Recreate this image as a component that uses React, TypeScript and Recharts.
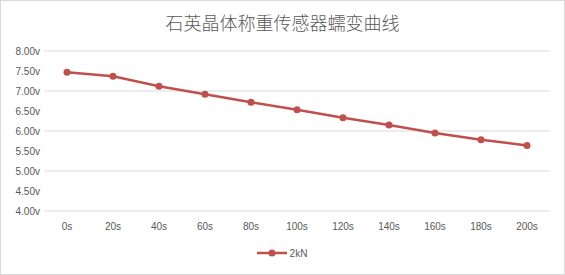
import { LineChart, Line, XAxis, YAxis, CartesianGrid, Legend } from 'recharts';

const times = ['0s', '20s', '40s', '60s', '80s', '100s', '120s', '140s', '160s', '180s', '200s'];
const voltage2kN = [7.47, 7.37, 7.12, 6.92, 6.72, 6.53, 6.33, 6.15, 5.95, 5.78, 5.64];
const yTicks = [4, 4.5, 5, 5.5, 6, 6.5, 7, 7.5, 8];

const data = times.map((t, i) => ({ time: t, v: voltage2kN[i] }));

const LINE_COLOR = '#c0504d';
const TEXT_COLOR = '#595959';

const LegendContent = () => (
  <div style={{ height: 24, paddingLeft: 14, display: 'flex', justifyContent: 'center', alignItems: 'center', fontFamily: 'Liberation Sans, Arial, sans-serif', fontSize: 10, color: TEXT_COLOR }}>
    <svg width={30} height={10} style={{ marginRight: 3 }}>
      <line x1={0} y1={5} x2={30} y2={5} stroke={LINE_COLOR} strokeWidth={2.5} />
      <circle cx={15} cy={5} r={3.5} fill={LINE_COLOR} />
    </svg>
    <span>2kN</span>
  </div>
);

export default function App() {
  return (
    <div style={{ position: 'absolute', left: 0, top: 0, width: 565, height: 275, background: '#fff' }}>
      <div
        style={{
          position: 'absolute',
          top: 9,
          width: '100%',
          textAlign: 'center',
          fontFamily: '"Noto Sans CJK SC", sans-serif',
          fontWeight: 300,
          fontSize: 18,
          color: TEXT_COLOR,
        }}
      >
        石英晶体称重传感器蠕变曲线
      </div>
      <LineChart width={565} height={275} data={data} margin={{ top: 51, right: 15, left: 0, bottom: 10 }}>
        <CartesianGrid vertical={false} stroke="#d9d9d9" />
        <XAxis
          dataKey="time"
          axisLine={false}
          tickLine={false}
          tickSize={0}
          tickMargin={12}
          height={30}
          padding={{ left: 23, right: 23 }}
          tick={{ fill: TEXT_COLOR, fontSize: 10, fontFamily: 'Liberation Sans, Arial, sans-serif' }}
        />
        <YAxis
          domain={[4, 8]}
          ticks={yTicks}
          tickFormatter={(v: number) => v.toFixed(2) + 'v'}
          axisLine={false}
          tickLine={false}
          tickSize={0}
          tickMargin={4}
          width={44}
          tick={{ fill: TEXT_COLOR, fontSize: 10, fontFamily: 'Liberation Sans, Arial, sans-serif' }}
        />
        <Legend verticalAlign="bottom" height={24} content={<LegendContent />} />
        <Line
          dataKey="v"
          name="2kN"
          stroke={LINE_COLOR}
          strokeWidth={2.5}
          dot={{ r: 3.5, fill: LINE_COLOR, stroke: LINE_COLOR, strokeWidth: 0 }}
          isAnimationActive={false}
        />
      </LineChart>
      <div style={{ position: 'absolute', left: 0, top: 0, width: 565, height: 275, boxSizing: 'border-box', border: '1px solid #d9d9d9', pointerEvents: 'none' }} />
    </div>
  );
}
